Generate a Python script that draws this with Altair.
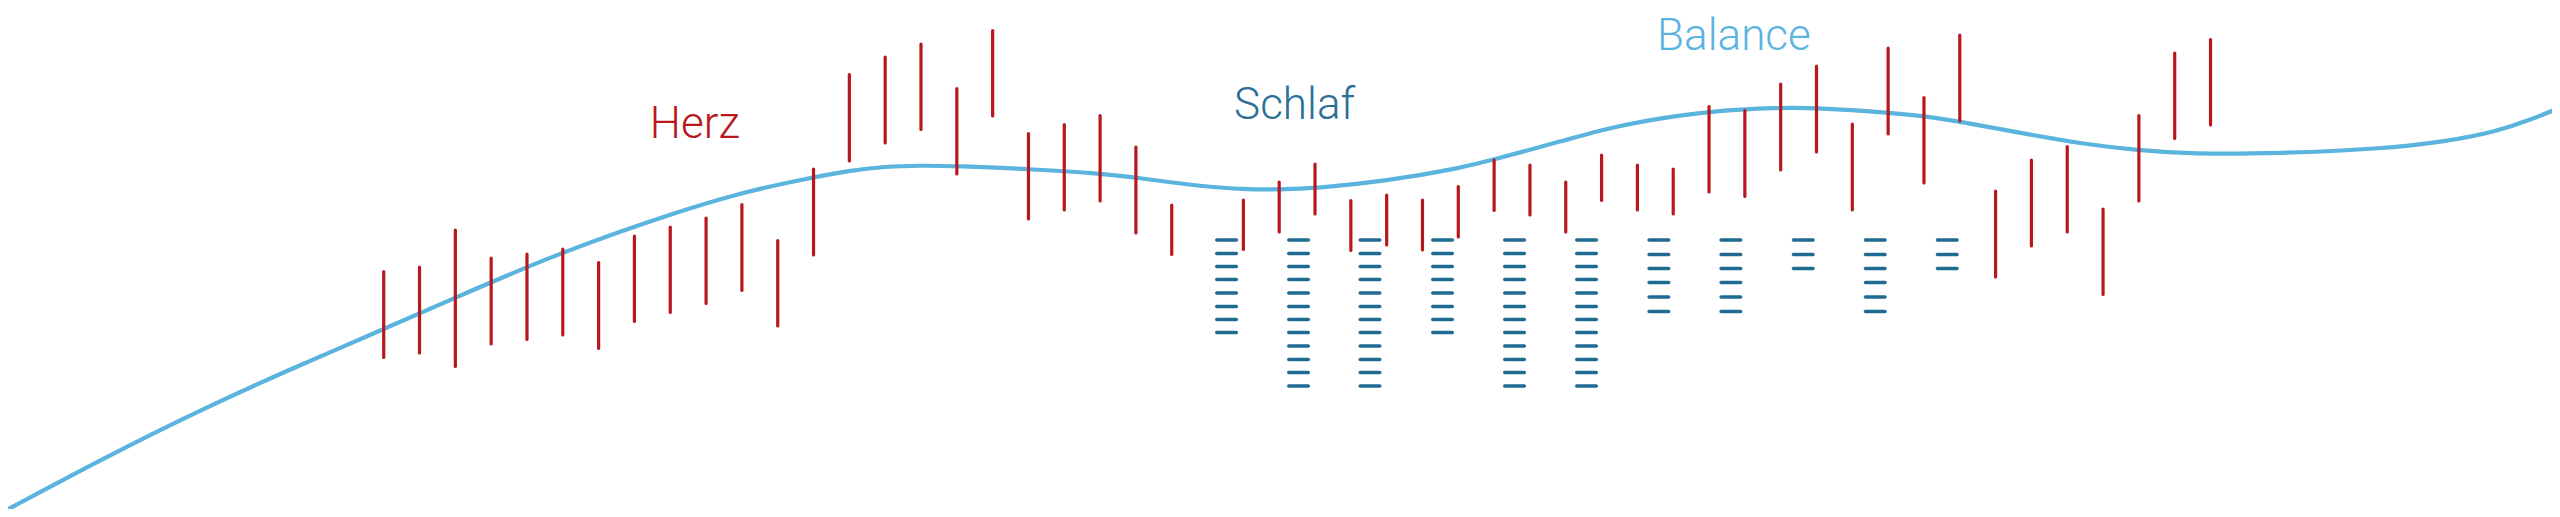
import altair as alt
import pandas as pd

# ---------------- data ----------------
# Herz (heart): daily ranges, day index -> (low, high) in score units
herz_day = [0, 1, 2, 3, 4, 5, 6, 7, 8, 9, 10, 11, 12, 13, 14, 15, 16, 17, 18, 19, 20, 21, 22,
            24, 25, 26, 27, 28, 29, 30, 31, 32, 33, 34, 35, 36, 37, 38, 39, 40, 41, 42, 43,
            44, 45, 46, 47, 48, 49, 50, 51]
herz_high = [49.1, 50.0, 57.4, 51.8, 52.6, 53.6, 50.9, 56.2, 58.0, 59.8, 62.5, 55.3, 69.6,
             88.5, 92.0, 94.6, 85.7, 97.3, 76.7, 78.5, 80.3, 74.0, 62.4,
             63.4, 67.0, 70.6, 63.3, 64.4, 63.4, 66.1, 71.4, 70.4, 67.0, 72.4, 70.4, 69.6,
             82.1, 81.3, 86.6, 90.2, 78.6, 93.8, 83.9, 96.4, 65.2, 71.4, 74.1, 61.6, 80.3,
             92.8, 95.5]
herz_low = [31.9, 32.8, 30.1, 34.6, 35.5, 36.4, 33.7, 39.1, 40.9, 42.7, 45.3, 38.2, 52.4,
            71.2, 74.8, 77.5, 68.6, 80.2, 59.6, 61.4, 63.2, 56.8, 52.5,
            53.5, 57.0, 60.6, 53.3, 54.4, 53.4, 56.0, 61.3, 60.4, 57.0, 63.3, 61.4, 60.6,
            65.0, 64.1, 69.4, 73.0, 61.4, 76.6, 66.8, 79.2, 48.0, 54.2, 57.0, 44.5, 63.2,
            75.7, 78.4]

# Schlaf (sleep): stacks of units
schlaf_day = [23.53, 25.54, 27.535, 29.56, 31.57, 33.58, 35.60, 37.61, 39.63, 41.64, 43.65]
schlaf_count = [8, 12, 12, 8, 12, 12, 6, 6, 3, 6, 3]
schlaf_group = ["a", "a", "a", "a", "a", "a", "b", "b", "b", "b", "b"]
schlaf_levels_a = [55.4, 52.7, 50.1, 47.5, 44.8, 42.1, 39.5, 36.9, 34.2, 31.5, 28.9, 26.2]
schlaf_levels_b = [55.4, 52.5, 49.7, 46.9, 44.0, 41.1]

# Balance: smooth trend
balance_day = [-10.71, -7.92, -5.13, -2.34, -0.66, 2.0, 5.0, 8.0, 10.0, 11.62, 13.0, 14.0,
               15.0, 16.0, 18.0, 20.0, 21.0, 22.0, 22.79, 24.0, 25.0, 26.0, 28.0, 30.0,
               31.0, 33.0, 34.0, 35.07, 37.0, 39.0, 40.0, 42.0, 43.0, 44.0, 46.0, 47.36,
               49.0, 50.43, 52.94, 55.73, 57.59, 58.99, 59.92, 60.76]
balance_val = [0.7, 11.4, 21.4, 30.4, 35.5, 43.9, 53.1, 60.6, 64.9, 67.4, 69.3, 70.1,
               70.3, 70.2, 69.6, 68.7, 67.9, 66.9, 66.2, 65.5, 65.5, 65.7, 67.2, 69.7,
               71.5, 75.4, 77.4, 79.1, 81.2, 81.9, 81.8, 80.9, 80.2, 79.1, 76.4, 74.7,
               73.3, 72.6, 72.7, 73.6, 75.1, 77.1, 79.4, 81.9]

label_text = ["Herz", "Schlaf", "Balance"]
label_day = [7.43, 23.74, 35.55]
label_val = [75.9, 79.6, 93.5]
label_color = ["#b8181d", "#2b6f97", "#5bb4e0"]

# ---------------- layout ----------------
W, H = 2544, 501
PX_PER_DAY = 35.82
DAY0_PX = 375.7
X_DOMAIN = [-DAY0_PX / PX_PER_DAY, (W - DAY0_PX) / PX_PER_DAY]
Y_DOMAIN = [1.6, 101.8]

RED = "#b8181d"
DARK_BLUE = "#216a92"
LIGHT_BLUE = "#5bb4de"

herz_df = pd.DataFrame({"day": herz_day, "low": herz_low, "high": herz_high})

levels = {"a": schlaf_levels_a, "b": schlaf_levels_b}
rows = []
for d, n, g in zip(schlaf_day, schlaf_count, schlaf_group):
    for k in range(n):
        rows.append({"day": d, "val": levels[g][k]})
schlaf_df = pd.DataFrame(rows)

balance_df = pd.DataFrame({"day": balance_day, "val": balance_val})
label_df = pd.DataFrame({"text": label_text, "day": label_day, "val": label_val,
                         "color": label_color})

xs = alt.Scale(domain=X_DOMAIN, nice=False, zero=False)
ys = alt.Scale(domain=Y_DOMAIN, nice=False, zero=False)

curve = alt.Chart(balance_df).mark_line(
    interpolate="basis", strokeWidth=4.2, color=LIGHT_BLUE
).encode(
    x=alt.X("day:Q", scale=xs, axis=None),
    y=alt.Y("val:Q", scale=ys, axis=None),
    order="day:Q",
)

bars = alt.Chart(herz_df).mark_rule(
    strokeWidth=3.2, strokeCap="round", color=RED
).encode(
    x=alt.X("day:Q", scale=xs, axis=None),
    y=alt.Y("low:Q", scale=ys, axis=None),
    y2="high:Q",
)

dashes = alt.Chart(schlaf_df).mark_tick(
    orient="horizontal", size=23, thickness=3.4, cornerRadius=1.7, color=DARK_BLUE, opacity=1
).encode(
    x=alt.X("day:Q", scale=xs, axis=None),
    y=alt.Y("val:Q", scale=ys, axis=None),
)

labels = alt.Chart(label_df).mark_text(
    align="left", baseline="alphabetic", font="Roboto", fontWeight=300, fontSize=44
).encode(
    x=alt.X("day:Q", scale=xs, axis=None),
    y=alt.Y("val:Q", scale=ys, axis=None),
    text="text:N",
    color=alt.Color("color:N", scale=None),
)

chart = alt.layer(curve, bars, dashes, labels).properties(
    width=W, height=H, padding=0, autosize=alt.AutoSizeParams(type="none"),
    background="white",
).configure_view(stroke=None)

chart.save("out.html", embed_options={"renderer": "svg", "actions": False})
